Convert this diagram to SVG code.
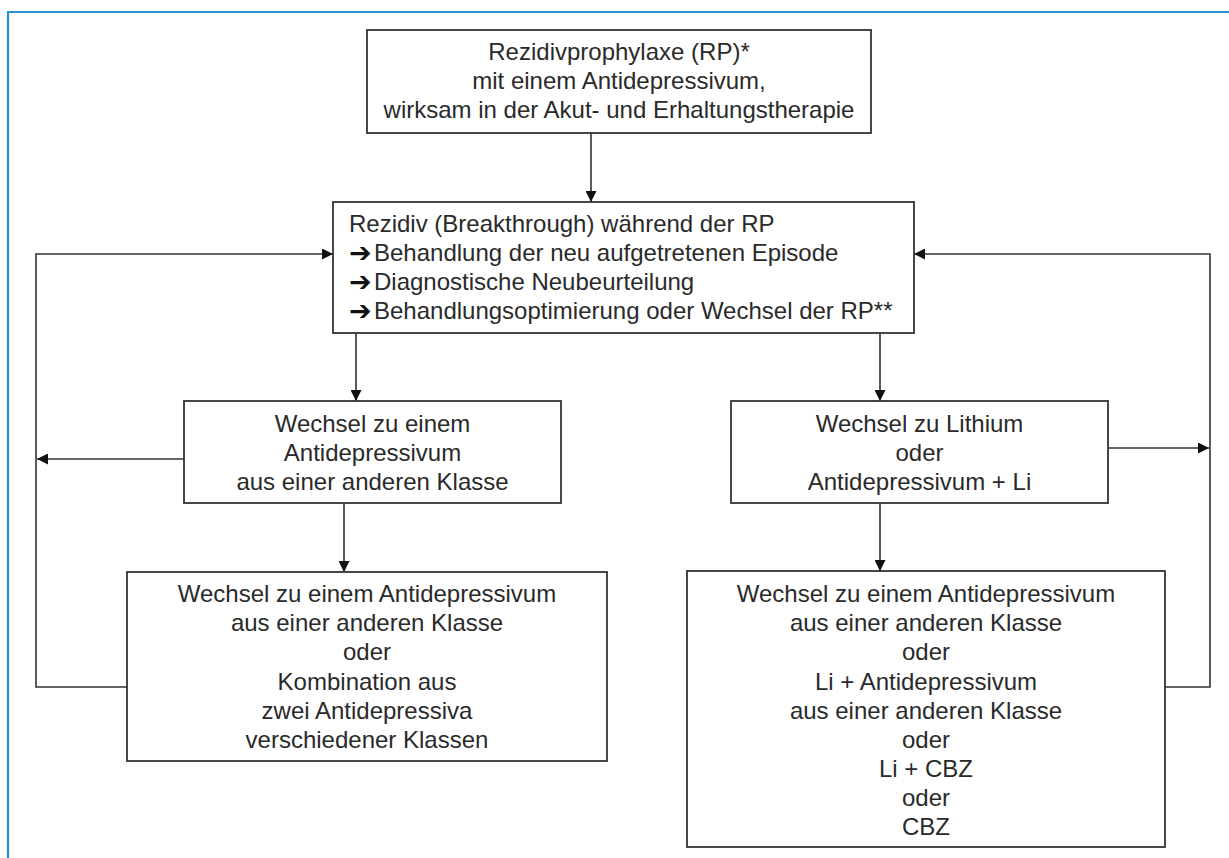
<svg xmlns="http://www.w3.org/2000/svg" width="1229" height="858" viewBox="0 0 1229 858">
<style>
.box{fill:#fff;stroke:#333;stroke-width:1.8}
.con{fill:none;stroke:#333;stroke-width:1.6;marker-end:url(#ah)}
.frame{fill:none;stroke:#2b8fd6;stroke-width:2.2}
text{font-family:"Liberation Sans",Arial,sans-serif;font-size:24px;fill:#2a2a2a}
.c{text-anchor:middle}
.arr{font-family:"DejaVu Sans",sans-serif;font-size:27px;font-weight:bold;fill:#111}
</style>
<defs>
<marker id="ah" viewBox="0 0 10 10" refX="10" refY="5" markerUnits="userSpaceOnUse" markerWidth="13" markerHeight="11" orient="auto">
<path d="M0,0 L10,5 L0,10 z" fill="#111"/>
</marker>
</defs>
<rect width="1229" height="858" fill="#fff"/>
<path class="frame" d="M8,858 V12 H1229"/>
<g id="connectors">
<path class="con" d="M591,133 V202"/>
<path class="con" d="M356,333 V401"/>
<path class="con" d="M880,333 V401"/>
<path class="con" d="M344,503 V572"/>
<path class="con" d="M880,503 V571"/>
<path class="con" d="M127,687 H36 V254 H333"/>
<path class="con" d="M184,459 H37"/>
<path class="con" d="M1165,687 H1210 V254 H914"/>
<path class="con" d="M1108,448 H1209"/>
</g>
<g id="n1">
<rect class="box" x="367" y="30" width="504" height="103"/>
<text class="c" x="619" y="60">Rezidivprophylaxe (RP)*</text>
<text class="c" x="619" y="89">mit einem Antidepressivum,</text>
<text class="c" x="619" y="118">wirksam in der Akut- und Erhaltungstherapie</text>
</g>
<g id="n2">
<rect class="box" x="333" y="202" width="581" height="131"/>
<text x="349" y="232">Rezidiv (Breakthrough) während der RP</text>
<text class="arr" x="349" y="262">➔</text><text x="374" y="261">Behandlung der neu aufgetretenen Episode</text>
<text class="arr" x="349" y="291">➔</text><text x="374" y="290">Diagnostische Neubeurteilung</text>
<text class="arr" x="349" y="320">➔</text><text x="374" y="319">Behandlungsoptimierung oder Wechsel der RP**</text>
</g>
<g id="n3">
<rect class="box" x="184" y="401" width="377" height="102"/>
<text class="c" x="372.5" y="432">Wechsel zu einem</text>
<text class="c" x="372.5" y="461">Antidepressivum</text>
<text class="c" x="372.5" y="490">aus einer anderen Klasse</text>
</g>
<g id="n4">
<rect class="box" x="731" y="401" width="377" height="102"/>
<text class="c" x="919.5" y="432">Wechsel zu Lithium</text>
<text class="c" x="919.5" y="461">oder</text>
<text class="c" x="919.5" y="490">Antidepressivum + Li</text>
</g>
<g id="n5">
<rect class="box" x="127" y="572" width="480" height="189"/>
<text class="c" x="367" y="602">Wechsel zu einem Antidepressivum</text>
<text class="c" x="367" y="631">aus einer anderen Klasse</text>
<text class="c" x="367" y="660">oder</text>
<text class="c" x="367" y="690">Kombination aus</text>
<text class="c" x="367" y="719">zwei Antidepressiva</text>
<text class="c" x="367" y="748">verschiedener Klassen</text>
</g>
<g id="n6">
<rect class="box" x="687" y="571" width="478" height="276"/>
<text class="c" x="926" y="602">Wechsel zu einem Antidepressivum</text>
<text class="c" x="926" y="631">aus einer anderen Klasse</text>
<text class="c" x="926" y="660">oder</text>
<text class="c" x="926" y="690">Li + Antidepressivum</text>
<text class="c" x="926" y="719">aus einer anderen Klasse</text>
<text class="c" x="926" y="748">oder</text>
<text class="c" x="926" y="777">Li + CBZ</text>
<text class="c" x="926" y="806">oder</text>
<text class="c" x="926" y="835">CBZ</text>
</g>
</svg>
